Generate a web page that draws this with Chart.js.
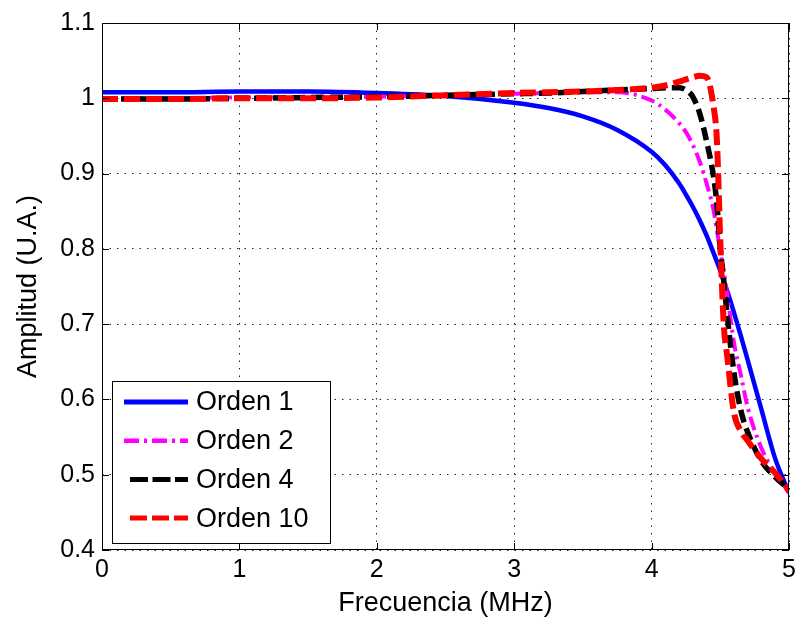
<!DOCTYPE html>
<html>
<head>
<meta charset="utf-8">
<script src="https://cdn.jsdelivr.net/npm/chart.js@4"></script>
<style>
  html, body { margin: 0; padding: 0; background: #fff; }
</style>
</head>
<body>
<canvas id="chart" width="795" height="623"></canvas>
<script>
// Frecuencia (MHz) - eje común
const freq = [0, 0.5, 1, 1.5, 2, 2.5, 3, 3.25, 3.5, 3.75, 4, 4.1, 4.2, 4.25, 4.3, 4.35, 4.4, 4.45, 4.475, 4.5, 4.525, 4.55, 4.6, 4.65, 4.7, 4.8, 4.9, 5];

// Amplitud (U.A.) para cada orden
const orden1 = [1.008, 1.008, 1.009, 1.009, 1.007, 1.003, 0.994, 0.987, 0.976, 0.958, 0.929, 0.911, 0.887, 0.872, 0.856, 0.838, 0.818, 0.795, 0.783, 0.771, 0.757, 0.744, 0.715, 0.684, 0.652, 0.586, 0.521, 0.476];
const orden2 = [1.000, 1.000, 1.001, 1.001, 1.002, 1.004, 1.006, 1.007, 1.008, 1.008, 0.997, 0.985, 0.967, 0.955, 0.938, 0.916, 0.887, 0.852, 0.825, 0.797, 0.770, 0.740, 0.675, 0.632, 0.589, 0.535, 0.502, 0.476];
const orden4 = [0.999, 0.999, 1.000, 1.001, 1.002, 1.004, 1.006, 1.007, 1.009, 1.011, 1.013, 1.014, 1.014, 1.011, 1.002, 0.980, 0.943, 0.897, 0.860, 0.800, 0.758, 0.712, 0.635, 0.585, 0.556, 0.518, 0.497, 0.481];
const orden10 = [0.999, 0.999, 1.000, 1.000, 1.001, 1.004, 1.007, 1.008, 1.009, 1.011, 1.014, 1.017, 1.022, 1.025, 1.028, 1.030, 1.028, 0.990, 0.945, 0.810, 0.700, 0.658, 0.582, 0.558, 0.545, 0.521, 0.502, 0.479];

const seriesNames = ['Orden 1', 'Orden 2', 'Orden 4', 'Orden 10'];

// Marcas de los ejes
const xTicks = [0, 1, 2, 3, 4, 5];
const xTickLabels = ['0', '1', '2', '3', '4', '5'];
const yTicks = [0.4, 0.5, 0.6, 0.7, 0.8, 0.9, 1.0, 1.1];
const yTickLabels = ['0.4', '0.5', '0.6', '0.7', '0.8', '0.9', '1', '1.1'];

const FONT = '"Liberation Sans", Arial, Helvetica, sans-serif';
Chart.defaults.font.family = FONT;
Chart.defaults.color = '#000';

function toPoints(ys) {
    return freq.map((x, i) => ({ x: x, y: ys[i] }));
}

// Caja de los ejes con marcas hacia dentro (estilo MATLAB)
const boxPlugin = {
    id: 'boxPlugin',
    afterDatasetsDraw(chart) {
        const { ctx, chartArea: a, scales } = chart;
        ctx.save();
        ctx.strokeStyle = '#000';
        ctx.lineWidth = 1;
        ctx.setLineDash([]);
        ctx.strokeRect(a.left + 0.5, a.top + 0.5, a.right - a.left - 1, a.bottom - a.top - 1);
        const len = 7;
        ctx.beginPath();
        xTicks.forEach(v => {
            const px = Math.round(scales.x.getPixelForValue(v)) + 0.5;
            ctx.moveTo(px, a.bottom); ctx.lineTo(px, a.bottom - len);
            ctx.moveTo(px, a.top); ctx.lineTo(px, a.top + len);
        });
        yTicks.forEach(v => {
            const py = Math.round(scales.y.getPixelForValue(v)) + 0.5;
            ctx.moveTo(a.left, py); ctx.lineTo(a.left + len, py);
            ctx.moveTo(a.right, py); ctx.lineTo(a.right - len, py);
        });
        ctx.stroke();
        ctx.restore();
    }
};

// Leyenda dentro del área, abajo a la izquierda
const legendPlugin = {
    id: 'legendPlugin',
    afterDraw(chart) {
        const ctx = chart.ctx;
        const box = { left: 112, top: 381, right: 330, bottom: 543 };
        ctx.save();
        ctx.fillStyle = '#fff';
        ctx.fillRect(box.left, box.top, box.right - box.left, box.bottom - box.top);
        ctx.strokeStyle = '#000';
        ctx.lineWidth = 1;
        ctx.setLineDash([]);
        ctx.strokeRect(box.left + 0.5, box.top + 0.5, box.right - box.left, box.bottom - box.top);
        ctx.font = '27px ' + FONT;
        ctx.textBaseline = 'middle';
        ctx.textAlign = 'left';
        chart.data.datasets.forEach((ds, i) => {
            const y = 402 + i * 38.7;
            ctx.beginPath();
            ctx.strokeStyle = ds.borderColor;
            ctx.lineWidth = ds.legendWidth;
            ctx.lineCap = 'butt';
            ctx.setLineDash(ds.legendDash);
            ctx.moveTo(ds.legendStart, y);
            ctx.lineTo(188, y);
            ctx.stroke();
            ctx.setLineDash([]);
            ctx.fillStyle = '#000';
            ctx.fillText(ds.label, 196, y + 1);
        });
        ctx.restore();
    }
};

new Chart(document.getElementById('chart').getContext('2d'), {
    type: 'line',
    data: {
        datasets: [
            {
                label: seriesNames[0], data: toPoints(orden1),
                borderColor: '#0000ff', borderWidth: 4.5, borderDash: [],
                order: 4, legendWidth: 5, legendDash: [], legendStart: 124
            },
            {
                label: seriesNames[1], data: toPoints(orden2),
                borderColor: '#ff00ff', borderWidth: 4, borderDash: [14, 5, 3, 5],
                order: 3, legendWidth: 4.5, legendDash: [15, 5, 3, 5], legendStart: 124
            },
            {
                label: seriesNames[2], data: toPoints(orden4),
                borderColor: '#000000', borderWidth: 5.5, borderDash: [13, 6],
                order: 2, legendWidth: 5, legendDash: [18, 4.5], legendStart: 130
            },
            {
                label: seriesNames[3], data: toPoints(orden10),
                borderColor: '#ff0000', borderWidth: 6, borderDash: [16, 6],
                order: 1, legendWidth: 5, legendDash: [17, 5], legendStart: 130
            }
        ].map(ds => Object.assign({
            pointRadius: 0,
            fill: false,
            cubicInterpolationMode: 'monotone',
            borderCapStyle: 'butt',
            borderJoinStyle: 'round'
        }, ds))
    },
    options: {
        responsive: false,
        animation: false,
        events: [],
        layout: { padding: { top: 23, right: 6, left: 0, bottom: 0 } },
        plugins: {
            legend: { display: false },
            tooltip: { enabled: false }
        },
        scales: {
            x: {
                type: 'linear',
                min: 0, max: 5,
                afterBuildTicks(scale) { scale.ticks = xTicks.map(v => ({ value: v })); },
                afterFit(scale) {
                    scale.height = 73;
                    scale.paddingLeft = 0;
                    scale.paddingRight = 0;
                },
                ticks: {
                    font: { size: 25 },
                    padding: 5,
                    maxRotation: 0,
                    callback: (v, i) => xTickLabels[i]
                },
                grid: {
                    color: '#222',
                    lineWidth: 1,
                    drawTicks: false
                },
                border: { display: false, dash: [1.5, 6] },
                title: {
                    display: true,
                    text: 'Frecuencia (MHz)',
                    font: { size: 27 },
                    padding: { top: 0, bottom: 3 }
                }
            },
            y: {
                type: 'linear',
                min: 0.4, max: 1.1,
                afterBuildTicks(scale) { scale.ticks = yTicks.map(v => ({ value: v })); },
                afterFit(scale) {
                    scale.width = 102;
                    scale.paddingTop = 0;
                    scale.paddingBottom = 0;
                },
                ticks: {
                    font: { size: 25 },
                    padding: 7,
                    callback: (v, i) => yTickLabels[i]
                },
                grid: {
                    color: '#222',
                    lineWidth: 1,
                    drawTicks: false
                },
                border: { display: false, dash: [1.5, 6] },
                title: {
                    display: true,
                    text: 'Amplitud (U.A.)',
                    font: { size: 27 },
                    padding: { top: 12, bottom: 0 }
                }
            }
        }
    },
    plugins: [boxPlugin, legendPlugin]
});
</script>
</body>
</html>
